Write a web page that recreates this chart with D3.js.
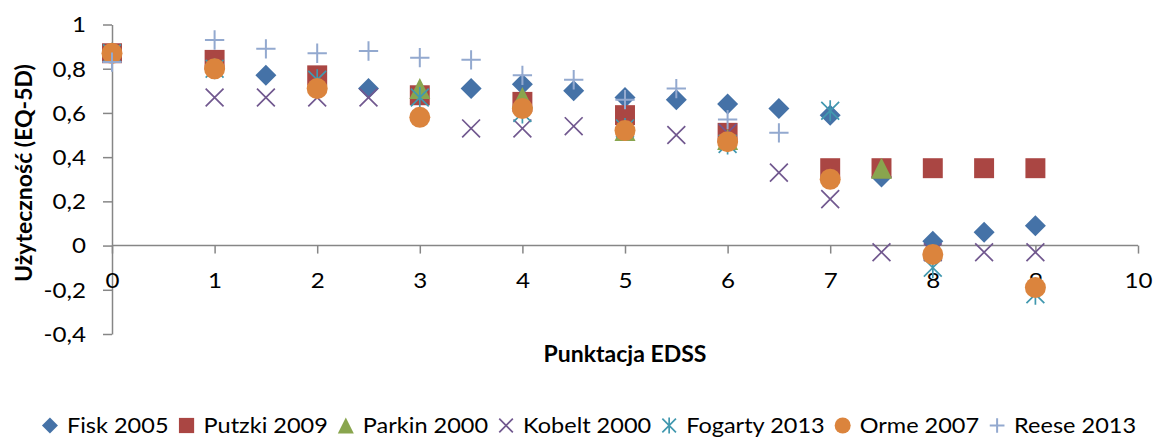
<!DOCTYPE html>
<html>
<head>
<meta charset="utf-8">
<script src="https://cdn.jsdelivr.net/npm/d3@7"></script>
<style>
  body { margin: 0; background: #fff; }
  text { font-family: Lato, "Open Sans", sans-serif; }
</style>
</head>
<body>
<svg id="chart" width="1154" height="439"></svg>
<script>
// EQ-5D utility by EDSS score, by study
const seriesNames = ["Fisk 2005", "Putzki 2009", "Parkin 2000", "Kobelt 2000", "Fogarty 2013", "Orme 2007", "Reese 2013"];

const fiskX = [1.5, 2.5, 3.5, 4, 4.5, 5, 5.5, 6, 6.5, 7, 7.5, 8, 8.5, 9];
const fiskY = [0.77, 0.71, 0.71, 0.73, 0.70, 0.67, 0.66, 0.64, 0.62, 0.59, 0.31, 0.02, 0.06, 0.09];

const putzkiX = [0, 1, 2, 3, 4, 5, 6, 7, 7.5, 8, 8.5, 9];
const putzkiY = [0.87, 0.84, 0.77, 0.68, 0.65, 0.59, 0.51, 0.35, 0.35, 0.35, 0.35, 0.35];

const parkinX = [3, 4, 5, 6, 7.5];
const parkinY = [0.71, 0.67, 0.52, 0.48, 0.35];

const kobeltX = [1, 1.5, 2, 2.5, 3.5, 4, 4.5, 5.5, 6, 6.5, 7, 7.5, 8, 8.5, 9];
const kobeltY = [0.67, 0.67, 0.67, 0.67, 0.53, 0.53, 0.54, 0.50, 0.51, 0.33, 0.21, -0.03, -0.03, -0.03, -0.03];

const fogartyX = [0, 1, 2, 3, 4, 5, 6, 7, 8, 9];
const fogartyY = [0.87, 0.80, 0.75, 0.67, 0.60, 0.53, 0.46, 0.61, -0.10, -0.22];

const ormeX = [0, 1, 2, 3, 4, 5, 6, 7, 8, 9];
const ormeY = [0.87, 0.80, 0.71, 0.58, 0.62, 0.52, 0.47, 0.30, -0.04, -0.19];

const reeseX = [0, 1, 1.5, 2, 2.5, 3, 3.5, 4, 4.5, 5, 5.5, 6, 6.5];
const reeseY = [0.83, 0.93, 0.89, 0.87, 0.88, 0.85, 0.84, 0.77, 0.75, 0.66, 0.71, 0.57, 0.51];

const xTicks = [0, 1, 2, 3, 4, 5, 6, 7, 8, 9, 10];
const yTicks = [-0.4, -0.2, 0, 0.2, 0.4, 0.6, 0.8, 1];

const colors = ["#4572A7", "#AA4643", "#89A54E", "#71588F", "#4198AF", "#DB843D", "#93A9CF"];
const shapes = ["diamond", "square", "triangle", "x", "star", "circle", "plus"];

const series = [
  [fiskX, fiskY], [putzkiX, putzkiY], [parkinX, parkinY], [kobeltX, kobeltY],
  [fogartyX, fogartyY], [ormeX, ormeY], [reeseX, reeseY]
].map(([xs, ys], i) => ({
  name: seriesNames[i], color: colors[i], shape: shapes[i],
  points: xs.map((xv, j) => ({ x: xv, y: ys[j] }))
}));

const svg = d3.select("#chart");
const plotLeft = 112, plotRight = 1138, plotTop = 24.5, plotBottom = 334;
const stretch = 1.15;       // horizontal scale applied to tick label glyphs
const legendStretch = 1.12; // horizontal scale applied to legend glyphs

const x = d3.scaleLinear().domain([0, 10]).range([plotLeft, plotRight]);
const y = d3.scaleLinear().domain([-0.4, 1]).range([plotBottom, plotTop]);
const fmt = v => d3.format(".1f")(v).replace("−", "-").replace(".", ",").replace(/,0$/, "");

// marker drawing
function drawMarker(g, shape, color, s) {
  if (shape === "diamond") {
    g.append("path").attr("d", `M0,${-s}L${s},0L0,${s}L${-s},0Z`).attr("fill", color);
  } else if (shape === "square") {
    g.append("rect").attr("x", -s * 0.95).attr("y", -s * 0.95).attr("width", s * 1.9).attr("height", s * 1.9).attr("fill", color);
  } else if (shape === "triangle") {
    g.append("path").attr("d", `M0,${-s}L${s},${s}L${-s},${s}Z`).attr("fill", color);
  } else if (shape === "circle") {
    g.append("circle").attr("r", s).attr("fill", color);
  } else if (shape === "x") {
    const h = s * 0.85;
    g.append("path").attr("d", `M${-h},${-h}L${h},${h}M${h},${-h}L${-h},${h}`)
      .attr("stroke", color).attr("stroke-width", 1.7).attr("fill", "none");
  } else if (shape === "plus") {
    const h = s * 0.92;
    g.append("path").attr("d", `M${-h},0L${h},0M0,${-h}L0,${h}`)
      .attr("stroke", color).attr("stroke-width", 2).attr("fill", "none");
  } else if (shape === "star") {
    const h = s * 0.85;
    g.append("path").attr("d", `M${-h},${-h}L${h},${h}M${h},${-h}L${-h},${h}M0,${-s}L0,${s}`)
      .attr("stroke", color).attr("stroke-width", 1.7).attr("fill", "none");
  }
}

// y axis
const yAxis = svg.append("g").attr("transform", `translate(${plotLeft},0)`)
  .call(d3.axisLeft(y).tickValues(yTicks).tickSize(9).tickSizeOuter(0).tickFormat(fmt));
yAxis.select(".domain").attr("stroke", "#868686").attr("stroke-width", 1.5);
yAxis.selectAll(".tick line").attr("stroke", "#868686").attr("stroke-width", 1.5);
yAxis.selectAll(".tick text").attr("font-size", 21).attr("fill", "#000")
  .attr("x", 0).attr("dy", "0.35em")
  .attr("transform", `translate(-26,0) scale(${stretch},1)`)
  .style("font-family", "Lato, sans-serif");

// x axis at y = 0
const xAxis = svg.append("g").attr("transform", `translate(0,${y(0)})`)
  .call(d3.axisBottom(x).tickValues(xTicks).tickSize(8).tickSizeOuter(0).tickFormat(d3.format("d")));
xAxis.select(".domain").attr("stroke", "#868686").attr("stroke-width", 1.5).attr("d", `M${plotLeft},0H${plotRight}`);
xAxis.selectAll(".tick line").attr("stroke", "#868686").attr("stroke-width", 1.5);
xAxis.selectAll(".tick text").attr("font-size", 21).attr("fill", "#000")
  .attr("y", 0).attr("dy", "0.36em")
  .attr("transform", `translate(0,35) scale(${stretch},1)`)
  .style("font-family", "Lato, sans-serif");

// axis titles
svg.append("text").attr("x", 625).attr("y", 362).attr("text-anchor", "middle")
  .attr("font-size", 23).attr("font-weight", "bold").text("Punktacja EDSS");
svg.append("text").attr("transform", "translate(32,173) rotate(-90)").attr("text-anchor", "middle")
  .attr("font-size", 23).attr("font-weight", "bold").text("Użyteczność (EQ-5D)");

// points
series.forEach(s => {
  svg.append("g").selectAll("g").data(s.points).join("g")
    .attr("transform", d => `translate(${x(d.x)},${y(d.y)})`)
    .each(function () { drawMarker(d3.select(this), s.shape, s.color, 10.5); });
});

// legend
const legend = svg.append("g");
let lx = 0;
series.forEach(s => {
  const g = legend.append("g").attr("transform", `translate(${lx},0)`);
  drawMarker(g.append("g").attr("transform", "translate(8,-7.5)"), s.shape, s.color, 8);
  const t = g.append("text").attr("font-size", 21).attr("fill", "#000")
    .attr("transform", `translate(25,0) scale(${legendStretch},1)`).text(s.name);
  const w = t.node().getComputedTextLength() * legendStretch;
  lx += 25 + w + 10;
});
const lw = lx - 10;
legend.attr("transform", `translate(${(1154 - lw) / 2 + 12},433)`);
</script>
</body>
</html>
